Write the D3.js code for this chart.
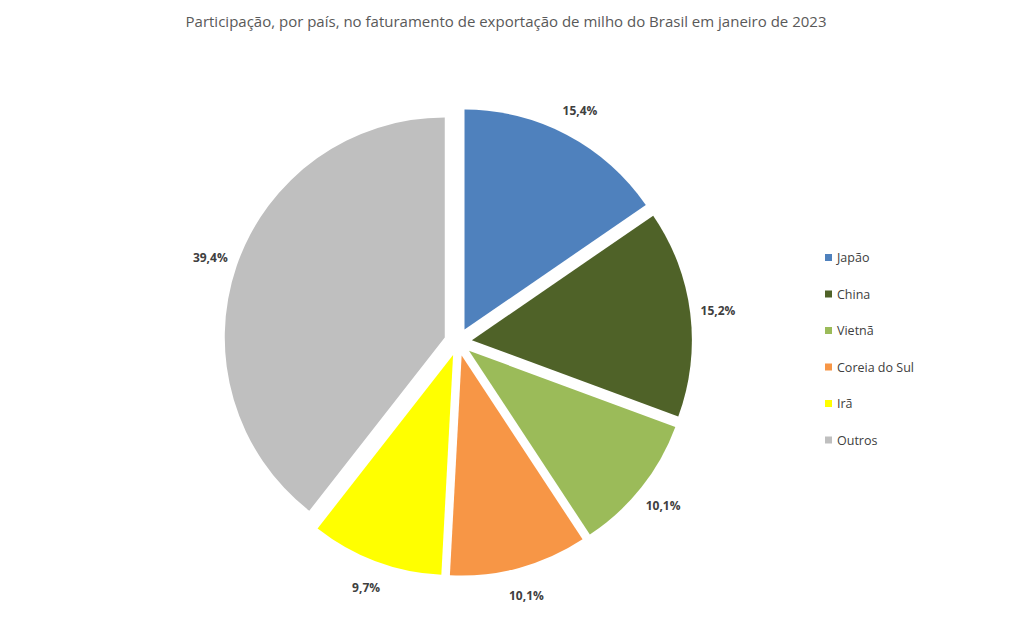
<!DOCTYPE html>
<html>
<head>
<meta charset="utf-8">
<script src="https://cdn.jsdelivr.net/npm/d3@7"></script>
<style>
  body { margin: 0; background: #fff; }
  text { font-family: "Open Sans", "Noto Sans", sans-serif; }
</style>
</head>
<body>
<svg id="chart" width="1012" height="630"></svg>
<script>
const countries = ["Japão", "China", "Vietnã", "Coreia do Sul", "Irã", "Outros"];
const shares = [15.4, 15.2, 10.1, 10.1, 9.7, 39.4];
const colors = ["#4f81bd", "#4f6228", "#9bbb59", "#f79646", "#ffff00", "#bfbfbf"];

const svg = d3.select("#chart");
const cx = 458, cy = 342, r = 220, explode = 14;

svg.append("text")
    .attr("x", 506).attr("y", 27)
    .attr("text-anchor", "middle")
    .attr("font-size", 15)
    .attr("fill", "#595959")
    .text("Participação, por país, no faturamento de exportação de milho do Brasil em janeiro de 2023");

const data = countries.map((c, i) => ({ name: c, value: shares[i], color: colors[i] }));
const pie = d3.pie().value(d => d.value).sort(null);
const arc = d3.arc().innerRadius(0).outerRadius(r);
const arcs = pie(data);

const g = svg.append("g").attr("transform", `translate(${cx},${cy})`);

g.selectAll("path")
    .data(arcs)
    .join("path")
    .attr("transform", d => {
        const a = (d.startAngle + d.endAngle) / 2;
        return `translate(${Math.sin(a) * explode},${-Math.cos(a) * explode})`;
    })
    .attr("d", arc)
    .attr("fill", d => d.data.color);

g.selectAll("text.lbl")
    .data(arcs)
    .join("text")
    .attr("class", "lbl")
    .attr("x", d => Math.sin((d.startAngle + d.endAngle) / 2) * (r + 42))
    .attr("y", d => -Math.cos((d.startAngle + d.endAngle) / 2) * (r + 42) + 5)
    .attr("text-anchor", "middle")
    .attr("font-size", 12)
    .attr("font-weight", "bold")
    .attr("fill", "#404040")
    .text(d => d.data.value.toFixed(1).replace(".", ",") + "%");

const legendItems = svg.append("g")
    .attr("transform", "translate(825,258)")
    .selectAll("g")
    .data(data)
    .join("g")
    .attr("transform", (d, i) => `translate(0,${i * 36.5})`);

legendItems.append("rect")
    .attr("x", 0).attr("y", -4)
    .attr("width", 7).attr("height", 7)
    .attr("fill", d => d.color);

legendItems.append("text")
    .attr("x", 12).attr("y", 4)
    .attr("font-size", 12.5)
    .attr("fill", "#404040")
    .text(d => d.name);
</script>
</body>
</html>
